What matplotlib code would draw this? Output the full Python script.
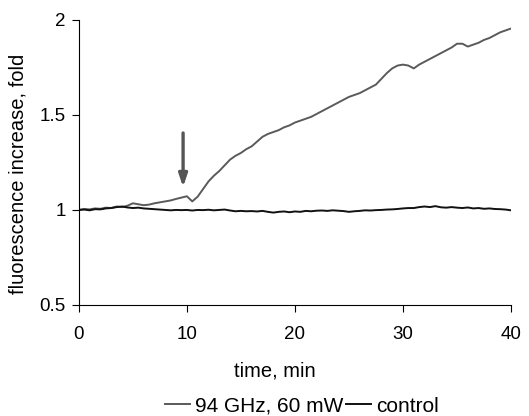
import matplotlib.pyplot as plt
import numpy as np

plt.rcParams["font.family"] = ["Liberation Sans", "DejaVu Sans"]

# time axis, minutes (0.5 min steps)
time_min = np.arange(0, 40.01, 0.5)

# 94 GHz, 60 mW trace
ghz94 = [
    1.000, 1.005, 1.003, 1.008, 1.006, 1.012, 1.010, 1.018, 1.015, 1.022,
    1.035, 1.030, 1.025, 1.028, 1.035, 1.040, 1.045, 1.050, 1.058, 1.065,
    1.072, 1.045, 1.070, 1.110, 1.150, 1.180, 1.205, 1.235, 1.265, 1.285,
    1.300, 1.320, 1.335, 1.360, 1.385, 1.400, 1.410, 1.420, 1.435, 1.445,
    1.460, 1.470, 1.480, 1.490, 1.505, 1.520, 1.535, 1.550, 1.565, 1.580,
    1.595, 1.605, 1.615, 1.630, 1.645, 1.660, 1.690, 1.720, 1.745, 1.760,
    1.765, 1.760, 1.745, 1.765, 1.780, 1.795, 1.810, 1.825, 1.840, 1.855,
    1.875, 1.875, 1.860, 1.870, 1.880, 1.895, 1.905, 1.920, 1.935, 1.945,
    1.955,
]

# control trace
control = [
    1.000, 1.002, 0.998, 1.004, 1.003, 1.008, 1.010, 1.015, 1.018, 1.013,
    1.010, 1.012, 1.008, 1.006, 1.004, 1.002, 1.000, 0.998, 1.000, 0.999,
    1.000, 0.997, 1.000, 0.999, 1.001, 0.998, 1.000, 1.002, 0.997, 0.993,
    0.995, 0.993, 0.994, 0.992, 0.995, 0.990, 0.986, 0.990, 0.992, 0.988,
    0.992, 0.990, 0.995, 0.993, 0.996, 0.997, 0.995, 0.998, 0.996, 0.994,
    0.990, 0.993, 0.995, 0.998, 0.997, 0.999, 1.000, 1.002, 1.003, 1.005,
    1.008, 1.010, 1.010, 1.015, 1.018, 1.015, 1.020, 1.014, 1.012, 1.015,
    1.012, 1.010, 1.013, 1.008, 1.010, 1.006, 1.008, 1.005, 1.004, 1.002,
    0.998,
]

# arrow marking exposure start
arrow_t = 9.65
arrow_from = 1.405
arrow_to = 1.12

fig = plt.figure(figsize=(5.29, 4.16), dpi=100)
ax = fig.add_axes([0.149, 0.267, 0.817, 0.685])

ax.plot(time_min, ghz94, color="#5a5a5a", lw=1.4, label="94 GHz, 60 mW")
ax.plot(time_min, control, color="#111111", lw=1.4, label="control")

ax.annotate(
    "", xy=(arrow_t, arrow_to), xytext=(arrow_t, arrow_from),
    arrowprops=dict(arrowstyle="-|>,head_width=0.25,head_length=0.75",
                    color="#555555", lw=2.4, shrinkA=0, shrinkB=0),
)

ax.set_xlim(0, 40)
ax.set_ylim(0.5, 2)
ax.set_xticks([0, 10, 20, 30, 40])
ax.set_yticks([0.5, 1, 1.5, 2])
ax.set_yticklabels(["0.5", "1", "1.5", "2"])
ax.spines["top"].set_visible(False)
ax.spines["right"].set_visible(False)
ax.tick_params(axis="x", direction="out", length=5, pad=10, labelsize=13.5)
ax.tick_params(axis="y", direction="out", length=5, pad=4.5, labelsize=13.5)

ax.set_xlabel("time, min", fontsize=14.5)
ax.set_ylabel("fluorescence increase, fold", fontsize=14.5)
ax.xaxis.set_label_coords(0.454, -0.2)
ax.yaxis.set_label_coords(-0.118, 0.46)

fig.legend(loc="center", bbox_to_anchor=(302 / 529, 1 - 406 / 416), ncol=2,
           frameon=False, fontsize=15, handlelength=1.2, handletextpad=0.25,
           columnspacing=0.1)

fig.savefig("out.png", dpi=100)
